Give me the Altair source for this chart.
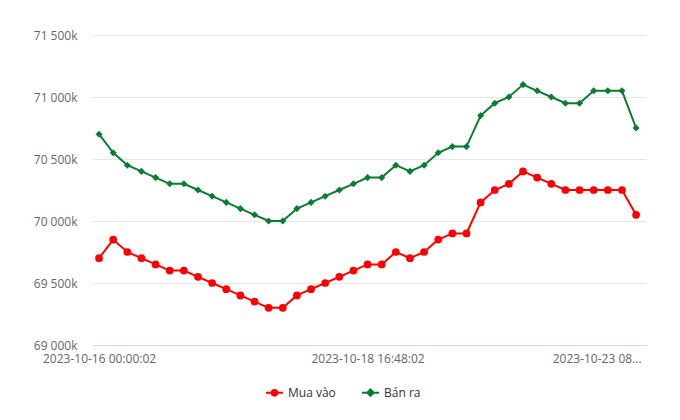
import altair as alt
import pandas as pd

# ---- data ----
series_names = ["Mua vào", "Bán ra"]
series_colors = ["#ff0000", "#0b7d2e"]

mua_vao = [69700, 69850, 69750, 69700, 69650, 69600, 69600, 69550, 69500, 69450,
           69400, 69350, 69300, 69300, 69400, 69450, 69500, 69550, 69600, 69650,
           69650, 69750, 69700, 69750, 69850, 69900, 69900, 70150, 70250, 70300,
           70400, 70350, 70300, 70250, 70250, 70250, 70250, 70250, 70050]

ban_ra = [70700, 70550, 70450, 70400, 70350, 70300, 70300, 70250, 70200, 70150,
          70100, 70050, 70000, 70000, 70100, 70150, 70200, 70250, 70300, 70350,
          70350, 70450, 70400, 70450, 70550, 70600, 70600, 70850, 70950, 71000,
          71100, 71050, 71000, 70950, 70950, 71050, 71050, 71050, 70750]

tick_positions = [0, 19, 38]
tick_labels = ["2023-10-16 00:00:02", "2023-10-18 16:48:02", "2023-10-23 08..."]
y_ticks = [69000, 69500, 70000, 70500, 71000, 71500]

rows = []
for name, vals in zip(series_names, [mua_vao, ban_ra]):
    for i, v in enumerate(vals):
        rows.append({"idx": i, "value": v, "series": name})
df = pd.DataFrame(rows)

label_expr = " : ".join(
    f"datum.value == {p} ? '{t}'" for p, t in zip(tick_positions, tick_labels)
) + " : ''"

x_enc = alt.X(
    "idx:Q",
    scale=alt.Scale(domain=[-0.5, len(mua_vao) - 0.3], nice=False, zero=False),
    axis=alt.Axis(
        values=tick_positions, labelExpr=label_expr, title=None, grid=False,
        ticks=False, tickSize=0, domainColor="#ccd6eb", domainWidth=1,
        labelColor="#666666", labelFontSize=12, labelFont="Open Sans",
        labelPadding=8, labelOverlap=False,
        labelAlign={"expr": f"datum.value == {tick_positions[-1]} ? 'right' : 'center'"},
        labelOffset={"expr": f"datum.value == {tick_positions[-1]} ? 5 : 0"},
    ),
)
y_enc = alt.Y(
    "value:Q",
    scale=alt.Scale(domain=[y_ticks[0], y_ticks[-1]], nice=False, zero=False),
    axis=alt.Axis(
        values=y_ticks, title=None, domain=False, ticks=False,
        labelExpr="replace(format(datum.value, ','), ',', ' ') + 'k'",
        gridColor="#e6e6e6", gridWidth=1, labelPadding=15,
        labelColor="#666666", labelFontSize=12, labelFont="Open Sans",
    ),
)

color_scale = alt.Scale(domain=series_names, range=series_colors)

base = alt.Chart(df)

lines = base.mark_line(strokeWidth=2).encode(
    x=x_enc, y=y_enc,
    color=alt.Color("series:N", scale=color_scale, legend=None),
)

points = base.mark_point(filled=True, opacity=1).encode(
    x=x_enc, y=y_enc,
    color=alt.Color("series:N", scale=color_scale, legend=None),
    shape=alt.Shape("series:N", scale=alt.Scale(domain=series_names, range=["circle", "diamond"]), legend=None),
    size=alt.Size("series:N", scale=alt.Scale(domain=series_names, range=[60, 50]), legend=None),
)

circle_path = "M-1,0H1M0.33,0A0.33,0.33,0,1,1,-0.33,0A0.33,0.33,0,1,1,0.33,0Z"
diamond_path = "M-1,0H1M0,-0.38L0.38,0L0,0.38L-0.38,0Z"

legend_layer = base.transform_filter("false").mark_point(filled=False, strokeWidth=2, opacity=1).encode(
    x=x_enc, y=y_enc,
    color=alt.Color("series:N", scale=color_scale, title=None),
    fill=alt.Fill("series:N", scale=color_scale, title=None),
    shape=alt.Shape("series:N", scale=alt.Scale(domain=series_names, range=[circle_path, diamond_path]), title=None),
)

chart = alt.layer(lines, points, legend_layer).resolve_scale(
    color="independent", shape="independent", fill="independent", size="independent"
).resolve_legend(
    color="independent", shape="independent", fill="independent", size="independent"
).properties(
    width=554, height=310, autosize="none",
    padding={"left": 92, "top": 35, "right": 34, "bottom": 75},
    background="white",
).configure_view(stroke=None).configure_legend(
    orient="none", legendX=173, legendY=348, direction="horizontal",
    symbolSize=289, symbolStrokeWidth=2, labelOffset=4, columnPadding=22,
    labelFont="Open Sans", labelFontSize=12, labelColor="#333333", padding=0,
)

chart.save("out.html", embed_options={"renderer": "svg", "actions": False})
